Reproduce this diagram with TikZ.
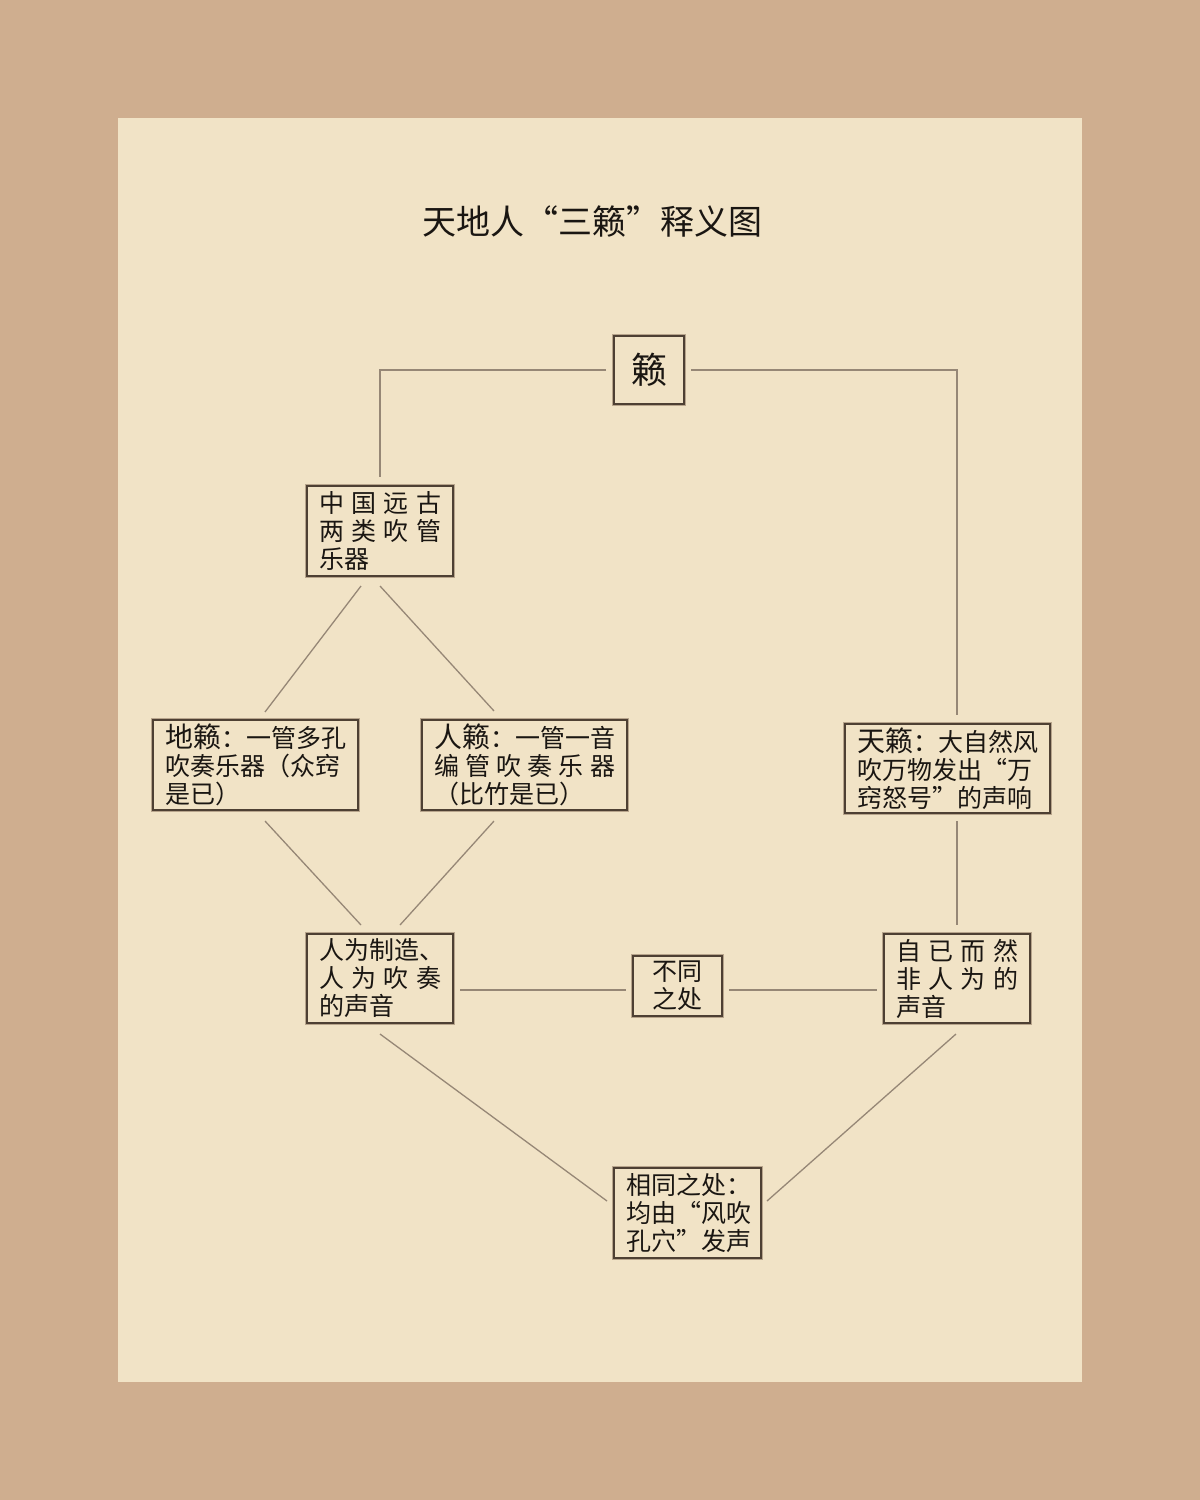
\documentclass[tikz,border=0pt]{standalone}
\usepackage{fontspec}
\usetikzlibrary{calc}
\newfontfamily\cjk{Noto Sans CJK SC}
\definecolor{outerc}{HTML}{CFAE8F}
\definecolor{innerc}{HTML}{F1E3C6}
\definecolor{boxc}{HTML}{4E4033}
\definecolor{shadc}{HTML}{B8A58C}
\definecolor{linec}{HTML}{968776}
\definecolor{txtc}{HTML}{1A1612}
\newcommand\jline[1]{\noindent\hbox to\hsize{#1}}
\newcommand\lqm{\makebox[1em][r]{“}}
\newcommand\rqm{\makebox[1em][l]{”}}
\newcommand\hd[1]{{\fontsize{14}{14}\selectfont #1}}
\tikzset{
  box/.style={draw=boxc, line width=1pt, fill=innerc, text=txtc,
    inner xsep=6pt, inner ysep=2pt, align=left,
    font=\cjk\fontsize{12.5}{14}\selectfont,
    preaction={draw=shadc, line width=2pt}},
  conn/.style={draw=linec, line width=0.65pt},
}
\begin{document}
\begin{tikzpicture}[x=0.5pt,y=-0.5pt]
\fill[outerc] (0,0) rectangle (1200,1500);
\fill[innerc] (118,118) rectangle (1082,1382);
\useasboundingbox (0,0) rectangle (1200,1500);

\node[text=txtc, font=\cjk\fontsize{17}{20}\selectfont, inner sep=0pt] (title) at (592,221)
  {天地人\lqm 三籁\rqm 释义图};

\node[box, minimum width=35pt, minimum height=34pt, align=center,
  font=\cjk\fontsize{18}{20}\selectfont] (top) at (649,370) {籁};

\node[box, text width=61pt, minimum height=45pt] (a) at (380,531)
  {\jline{中\hfil 国\hfil 远\hfil 古}\\\jline{两\hfil 类\hfil 吹\hfil 管}\\乐器};

\node[box, text width=90.5pt, minimum height=45pt] (di) at (255.5,765)
  {\hd{地籁}：一管多孔\\吹奏乐器（众窍\\是已）};

\node[box, text width=90.5pt, minimum height=45pt] (ren) at (524.5,765)
  {\hd{人籁}：一管一音\\\jline{编\hfil 管\hfil 吹\hfil 奏\hfil 乐\hfil 器}\\（比竹是已）};

\node[box, text width=90.5pt, minimum height=44.5pt] (tian) at (947.5,768.5)
  {\hd{天籁}：大自然风\\吹万物发出\lqm 万\\窍怒号\rqm 的声响};

\node[box, text width=61pt, minimum height=44.5pt] (rw) at (380,978.5)
  {人为制造、\\\jline{人\hfil 为\hfil 吹\hfil 奏}\\的声音};

\node[box, minimum width=44.5pt, minimum height=30pt, align=center] (bt) at (677.5,986)
  {不同\\之处};

\node[box, text width=61pt, minimum height=44.5pt] (zr) at (957,978.5)
  {\jline{自\hfil 已\hfil 而\hfil 然}\\\jline{非\hfil 人\hfil 为\hfil 的}\\声音};

\node[box, text width=61.5pt, minimum height=45pt] (xt) at (687.5,1213)
  {相同之处：\\均由\lqm 风吹\\孔穴\rqm 发声};

% connectors
\draw[conn] ($(top.west)+(-7,0)$) -| ($(a.north)+(0,-8)$);
\draw[conn] ($(top.east)+(6,0)$) -| ($(tian.north -| zr.north)+(0,-8)$);
\draw[conn] ($(a.south)+(-19,9)$) -- ($(di.north)+(9.5,-7)$);
\draw[conn] ($(a.south)+(0,9)$) -- ($(ren.north)+(-30.5,-8)$);
\draw[conn] ($(di.south)+(9.5,10)$) -- ($(rw.north)+(-19,-8)$);
\draw[conn] ($(ren.south)+(-30.5,10)$) -- ($(rw.north)+(20,-8)$);
\draw[conn] ($(tian.south -| zr.north)+(0,7)$) -- ($(zr.north)+(0,-8)$);
\draw[conn] ($(rw.east |- bt.center)+(6,4)$) -- ($(bt.west)+(-6,4)$);
\draw[conn] ($(bt.east)+(6,4)$) -- ($(zr.west |- bt.center)+(-6,4)$);
\draw[conn] ($(rw.south)+(0,10)$) -- ($(xt.west)+(-6,-12)$);
\draw[conn] ($(zr.south)+(-1,10)$) -- ($(xt.east)+(5,-12)$);
\end{tikzpicture}
\end{document}
